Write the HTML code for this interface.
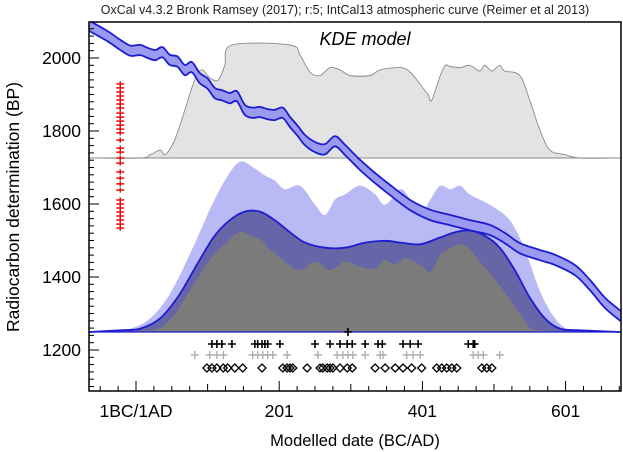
<!DOCTYPE html>
<html><head><meta charset="utf-8">
<style>
html,body{margin:0;padding:0;background:#fff;}
svg{display:block;font-family:"Liberation Sans",Arial,sans-serif;}
</style></head>
<body>
<svg id="chart" width="623" height="452" viewBox="0 0 623 452" xmlns="http://www.w3.org/2000/svg">
  <text x="345" y="14" font-size="12.5" text-anchor="middle" fill="#222">OxCal v4.3.2 Bronk Ramsey (2017); r:5; IntCal13 atmospheric curve (Reimer et al 2013)</text>
  <g id="plot"></g>
  <rect x="89" y="22" width="532" height="369" fill="none" stroke="#000" stroke-width="1.5"/>
  <text x="365" y="45" font-size="18" font-style="italic" text-anchor="middle">KDE model</text>
  <text x="0" y="0" font-size="17.5" text-anchor="middle" transform="translate(19,207) rotate(-90)">Radiocarbon determination (BP)</text>
  <text x="355" y="446" font-size="16.5" text-anchor="middle">Modelled date (BC/AD)</text>
</svg>
<script>
// ---- data ----
const yTickValues = [1200,1400,1600,1800,2000];
const xTickValues = [0,200,400,600];
const xTickLabels = ["1BC/1AD","201","401","601"];
const calYears = [-67,-40,-22,-8,6,16,27,37,47,58,68,78,89,100,110,120,131,141,152,163,173,184,194,205,215,226,236,250,264,278,292,313,334,355,383,411,439,466,494,515,536,564,585,613,634,655,677];
const calBP = [2090,2060,2036,2020,2022,2014,2008,2016,1995,1990,1967,1975,1945,1930,1904,1898,1890,1895,1858,1850,1852,1846,1844,1850,1825,1800,1775,1756,1750,1772,1748,1707,1671,1638,1597,1570,1556,1542,1529,1507,1479,1460,1447,1419,1378,1329,1293];
const calSigma = 14;
const kdeYears = [-67,6,20,34,41,54,68,82,92,103,115,124,134,215,229,243,257,271,285,299,327,341,369,383,397,408,413,425,432,439,453,466,480,487,497,508,515,536,550,564,578,599,620,677];
const kdeDensity = [0,0,.03,.07,.03,.16,.42,.69,.78,.71,.69,.82,1,1,.91,.76,.73,.80,.78,.73,.73,.78,.80,.76,.65,.56,.51,.73,.82,.81,.80,.82,.77,.82,.77,.82,.77,.73,.51,.25,.07,.03,0,0];
const priorYears = [-67,-36,-8,20,47,75,103,124,145,166,180,194,208,229,250,264,278,292,313,334,348,369,383,397,411,425,439,453,466,494,522,543,564,585,606,634,677];
const priorDensity = [0,.01,.02,.08,.22,.45,.71,.88,.99,.95,.91,.88,.83,.85,.74,.68,.77,.80,.85,.80,.74,.83,.77,.68,.77,.85,.83,.85,.80,.74,.65,.48,.24,.08,.01,0,0];
const modelYears = [-67,-22,6,34,61,89,110,131,152,173,194,215,236,264,292,320,348,369,397,425,446,466,487,508,529,550,571,592,620,677];
const modelDensity = [0,.01,.02,.08,.22,.42,.56,.65,.70,.70,.65,.58,.52,.49,.49,.52,.53,.52,.51,.55,.58,.59,.56,.49,.36,.20,.08,.02,.01,0];
const sumYears = [-67,20,47,75,103,124,145,166,176,187,208,229,250,271,292,313,334,348,362,376,397,411,425,436,453,466,480,501,522,543,564,677];
const sumDensity = [0,.01,.07,.24,.42,.51,.58,.55,.53,.48,.41,.36,.41,.36,.41,.38,.37,.42,.39,.43,.39,.35,.45,.48,.51,.48,.41,.31,.19,.07,.01,0];
const blackMarks = [106,113,120,134,166,170,176,180,184,201,250,271,285,295,302,320,338,344,373,383,394,464,471,473];
const grayMarks = [82,103,113,122,163,170,177,184,191,211,254,281,289,296,303,320,341,345,378,387,397,471,478,485,508];
const diamondMarks = [99,106,113,122,128,138,149,176,205,211,215,219,239,257,261,267,271,275,285,295,302,334,348,362,373,385,399,420,427,434,441,448,483,490,497];
const topMarks = [296];
const redBP = [1929,1918,1907,1896,1885,1874,1863,1849,1838,1827,1816,1805,1795,1775,1753,1742,1726,1712,1688,1671,1655,1638,1611,1600,1589,1578,1567,1556,1545,1534];
const redYear = -22;

// ---- scales ----
const X = yr => 136 + yr*0.716;
const Y = bp => 350 - (bp-1200)*0.365;
const upperBase = 158, upperH = 113;
const lowerBase = 332, lowerH = 172;
const NS = "http://www.w3.org/2000/svg";
const svg = document.getElementById('chart');
const plot = document.getElementById('plot');
function mk(tag, attrs, parent){const e=document.createElementNS(NS,tag);for(const k in attrs)e.setAttribute(k,attrs[k]);(parent||plot).appendChild(e);return e;}

const clip = mk('clipPath',{id:'clipP'},svg);
mk('rect',{x:89,y:22,width:532,height:369},clip);
plot.setAttribute('clip-path','url(#clipP)');

// Catmull-Rom smooth path through points (continuing an existing path)
function smooth(pts, start){
  let d = start ? `M${pts[0][0].toFixed(1)},${pts[0][1].toFixed(1)}` : ` L${pts[0][0].toFixed(1)},${pts[0][1].toFixed(1)}`;
  for(let i=0;i<pts.length-1;i++){
    const p0=pts[Math.max(0,i-1)],p1=pts[i],p2=pts[i+1],p3=pts[Math.min(pts.length-1,i+2)];
    const c1=[p1[0]+(p2[0]-p0[0])/6,p1[1]+(p2[1]-p0[1])/6];
    const c2=[p2[0]-(p3[0]-p1[0])/6,p2[1]-(p3[1]-p1[1])/6];
    d+=` C${c1[0].toFixed(1)},${c1[1].toFixed(1)} ${c2[0].toFixed(1)},${c2[1].toFixed(1)} ${p2[0].toFixed(1)},${p2[1].toFixed(1)}`;
  }
  return d;
}
function pts(xs, ds, base, h){ return xs.map((x,i)=>[X(x), base-ds[i]*h]); }
function areaPath(xs, ds, base, h){
  return `M${X(xs[0])},${base}` + smooth(pts(xs,ds,base,h),false) + ` L${X(xs[xs.length-1])},${base} Z`;
}
function linePath(xs, ds, base, h){ return smooth(pts(xs,ds,base,h),true); }

// upper KDE
let e = mk('path',{d:areaPath(kdeYears,kdeDensity,upperBase,upperH),fill:'#e3e3e3',stroke:'#8a8a8a','stroke-width':0.9});


e = mk('line',{x1:89,x2:621,y1:upperBase,y2:upperBase,stroke:'#888','stroke-width':1});



// lower distributions
e = mk('path',{d:areaPath(priorYears,priorDensity,lowerBase,lowerH),fill:'#b9b9f6'});


e = mk('path',{d:areaPath(modelYears,modelDensity,lowerBase,lowerH),fill:'#6565a8'});


e = mk('path',{d:areaPath(sumYears,sumDensity,lowerBase,lowerH),fill:'#7b7b7b'});


e = mk('path',{d:linePath(modelYears,modelDensity,lowerBase,lowerH),fill:'none',stroke:'#1c1cd0','stroke-width':1.8});


e = mk('line',{x1:89,x2:621,y1:lowerBase,y2:lowerBase,stroke:'#1c1cd0','stroke-width':1.2});



// calibration curve band
const upPts = calYears.map((y,i)=>[X(y), Y(calBP[i]+calSigma)]);
const loPts = calYears.map((y,i)=>[X(y), Y(calBP[i]-calSigma)]);
e = mk('path',{d:smooth(upPts,true)+smooth(loPts.slice().reverse(),false)+' Z',fill:'#9a9af0',stroke:'none'});


e = mk('path',{d:smooth(upPts,true),fill:'none',stroke:'#1c1cd0','stroke-width':1.8});


e = mk('path',{d:smooth(loPts,true),fill:'none',stroke:'#1c1cd0','stroke-width':1.8});



// markers
function plus(x,y,s,col,w,name){
  e = mk('path',{d:`M${x-s},${y} H${x+s} M${x},${y-s} V${y+s}`,stroke:col,'stroke-width':w,fill:'none'});
  
  
}
topMarks.forEach(v=>plus(X(v),332,4,'#000',1.6,'top-cross'));
blackMarks.forEach(v=>plus(X(v),344,4,'#000',1.6,'black-cross'));
grayMarks.forEach(v=>plus(X(v),355,4,'#b0b0b0',1.4,'gray-cross'));
diamondMarks.forEach(v=>{
  const x=X(v),y=368;
  e = mk('path',{d:`M${x-4},${y} L${x},${y-4} L${x+4},${y} L${x},${y+4} Z`,fill:'none',stroke:'#000','stroke-width':1.3});
  
  
});
redBP.forEach(v=>{
  const x=X(redYear),y=Y(v);
  e = mk('path',{d:`M${x-4},${y} H${x+4} M${x},${y-2.5} V${y+2.5}`,stroke:'#e01010','stroke-width':1.5,fill:'none'});
  
  
});

// axes ticks
const axes = document.createElementNS(NS,'g');
svg.appendChild(axes);


for(let v=1100; v<=2080; v+=20){
  const y=Y(v); if(y<22||y>391) continue;
  const major = v%200===0;
  mk('line',{x1:89,x2:89+(major?10:5),y1:y,y2:y,stroke:'#000','stroke-width':1},axes);
}
yTickValues.forEach(v=>{
  e = mk('text',{x:81,y:Y(v)+6,'font-size':17.5,'text-anchor':'end'},axes);
  e.textContent=v;
  
  
});
for(let v=-50; v<=675; v+=25){
  const x=X(v); if(x<89||x>621) continue;
  const major = v%200===0, mid = v%100===0;
  mk('line',{x1:x,x2:x,y1:391,y2:391-(major?10:mid?7:5),stroke:'#000','stroke-width':1},axes);
}
xTickValues.forEach((v,i)=>{
  e = mk('text',{x:X(v),y:417,'font-size':17.5,'text-anchor':'middle'},axes);
  e.textContent=xTickLabels[i];
  
  
});
</script>
</body></html>
